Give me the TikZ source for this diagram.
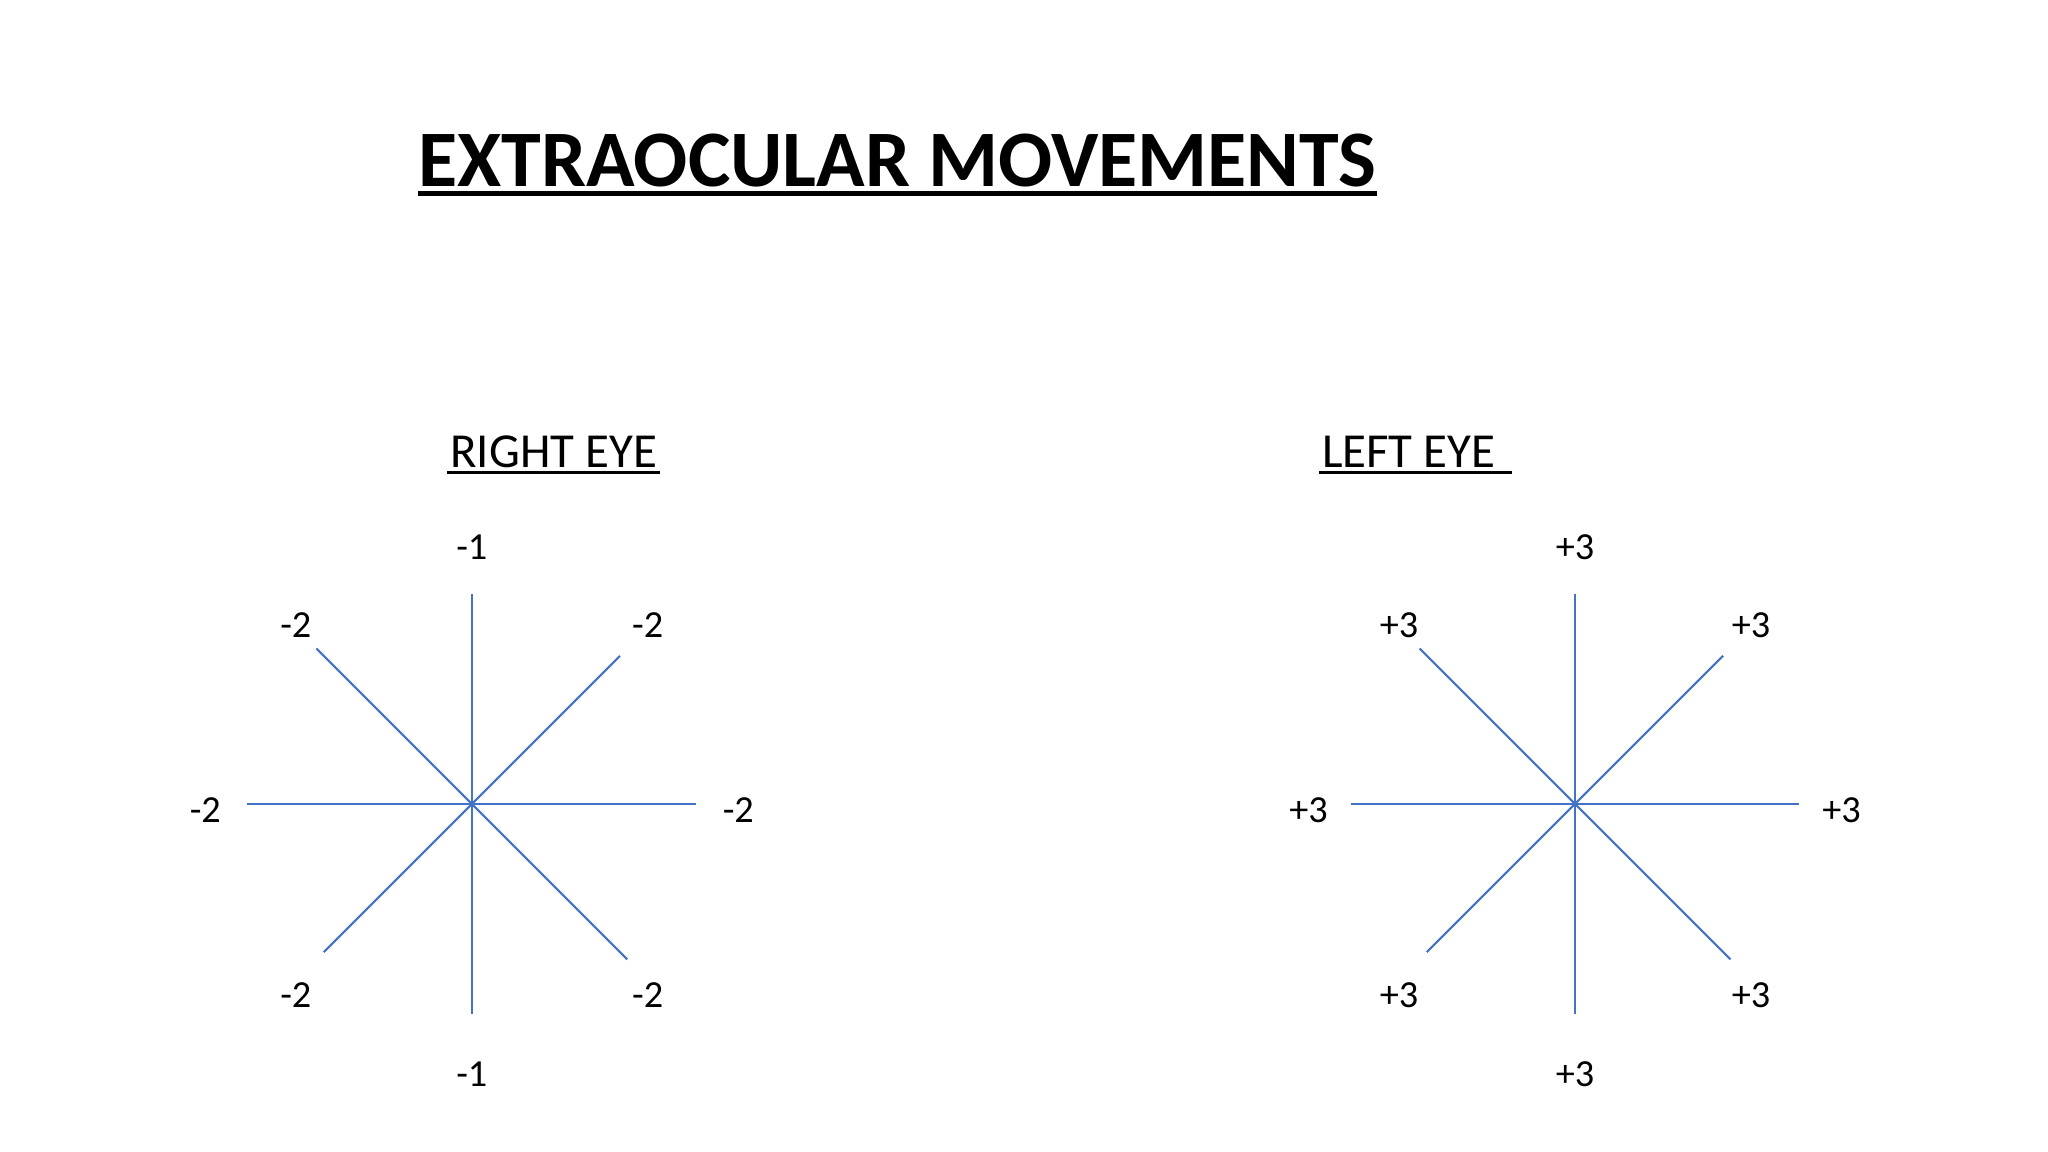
\documentclass[tikz,border=0pt]{standalone}
\usepackage{fontspec}
\setmainfont{Carlito}
\usetikzlibrary{calc,positioning}
\definecolor{eyeblue}{HTML}{4472C4}

\tikzset{
	arm/.style={draw=eyeblue, line width=1pt},
	grade/.style={inner sep=0pt, font=\fontsize{18}{22}\selectfont},
	heading/.style={inner sep=0pt, anchor=base west, font=\fontsize{23}{28}\selectfont},
}

\begin{document}
\begin{tikzpicture}
	\fill[white] (0,0) rectangle (33.867,19.05);
	\useasboundingbox (0,0) rectangle (33.867,19.05);

	\node[inner sep=0pt, anchor=base west, font=\fontsize{37.7}{45}\selectfont\bfseries] (title) at (6.912,15.96) {EXTRAOCULAR MOVEMENTS};
	\draw[line width=2pt] ($(title.base west)+(0,-0.11)$) -- ($(title.base east)+(0,-0.11)$);

	\node[heading] (righteye) at (7.441,11.316) {RIGHT EYE};
	\node[heading] (lefteye) at (21.856,11.316) {LEFT EYE};
	\draw[line width=1.4pt] ($(righteye.base west)+(-0.05,-0.083)$) -- ($(righteye.base east)+(0.05,-0.083)$);
	\draw[line width=1.4pt] ($(lefteye.base west)+(-0.05,-0.083)$) -- ($(lefteye.base east)+(0.26,-0.083)$);

	\foreach \cx/\eye/\vert/\side in {7.802/R/-1/-2, 26.045/L/+3/+3}{
	\coordinate (\eye-c) at (\cx,5.755);
	\coordinate (\eye-n) at ($(\eye-c)+(0,3.47)$);
	\coordinate (\eye-s) at ($(\eye-c)+(0,-3.47)$);
	\coordinate (\eye-w) at ($(\eye-c)+(-3.71,0)$);
	\coordinate (\eye-e) at ($(\eye-c)+(3.71,0)$);
	\coordinate (\eye-nw) at ($(\eye-c)+(-2.57,2.57)$);
	\coordinate (\eye-se) at ($(\eye-c)+(2.57,-2.57)$);
	\coordinate (\eye-ne) at ($(\eye-c)+(2.45,2.45)$);
	\coordinate (\eye-sw) at ($(\eye-c)+(-2.45,-2.45)$);

	\draw[arm] (\eye-c) -- (\eye-n);
	\draw[arm] (\eye-c) -- (\eye-s);
	\draw[arm] (\eye-c) -- (\eye-w);
	\draw[arm] (\eye-c) -- (\eye-e);
	\draw[arm] (\eye-c) -- (\eye-nw);
	\draw[arm] (\eye-c) -- (\eye-se);
	\draw[arm] (\eye-c) -- (\eye-ne);
	\draw[arm] (\eye-c) -- (\eye-sw);

	\node[grade] (\eye-gn) at ($(\eye-c)+(0,4.245)$) {\vert};
	\node[grade] (\eye-gs) at ($(\eye-c)+(0,-4.465)$) {\vert};
	\node[grade] (\eye-gw) at ($(\eye-c)+(-4.407,-0.1)$) {\side};
	\node[grade] (\eye-ge) at ($(\eye-c)+(4.407,-0.1)$) {\side};
	\node[grade] (\eye-gnw) at ($(\eye-c)+(-2.91,2.96)$) {\side};
	\node[grade] (\eye-gne) at ($(\eye-c)+(2.91,2.96)$) {\side};
	\node[grade] (\eye-gsw) at ($(\eye-c)+(-2.91,-3.167)$) {\side};
	\node[grade] (\eye-gse) at ($(\eye-c)+(2.91,-3.167)$) {\side};
	}
\end{tikzpicture}
\end{document}
